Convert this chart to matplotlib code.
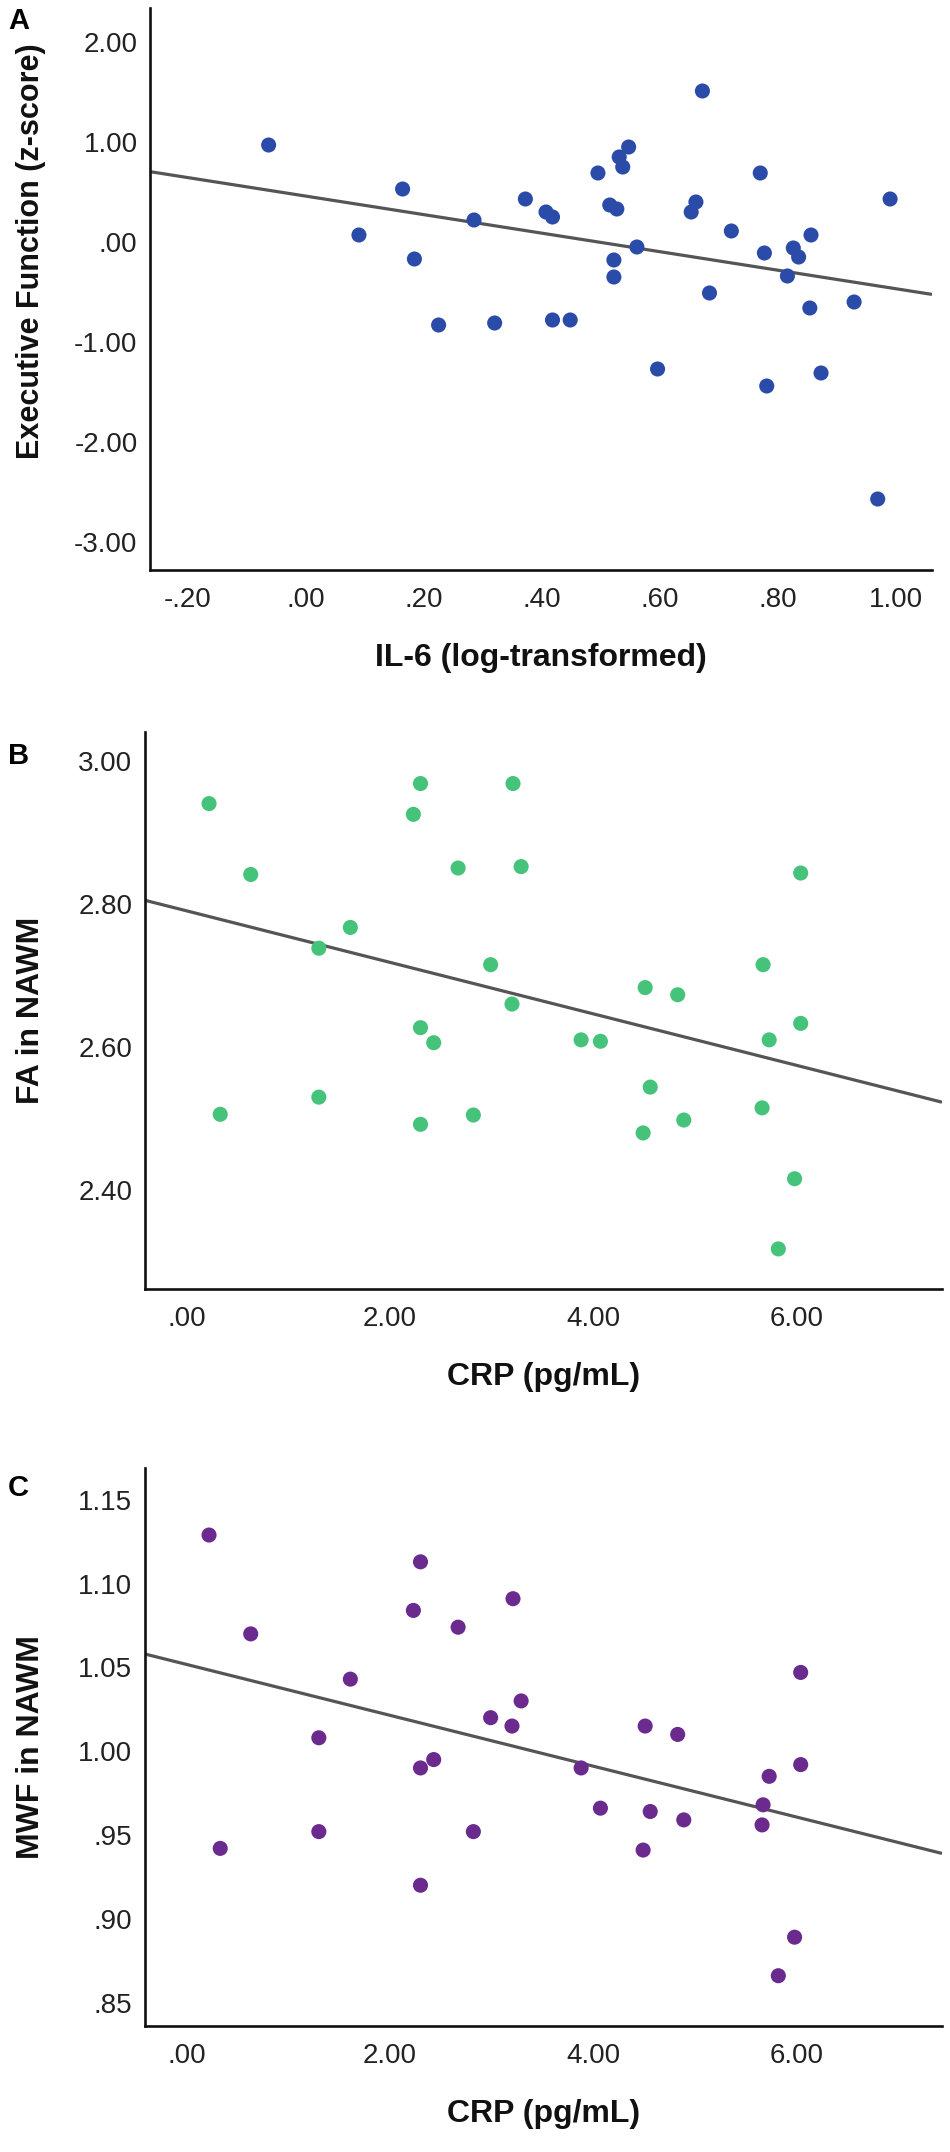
import numpy as np
import matplotlib
matplotlib.use("Agg")
import matplotlib.pyplot as plt

plt.rcParams['font.family'] = ['Liberation Sans', 'DejaVu Sans']

# ---------------- data ----------------
il6_log = [-0.063, 0.672, 0.164, 0.090, 0.184, 0.225, 0.285, 0.320, 0.372, 0.407,
           0.418, 0.418, 0.448, 0.495, 0.531, 0.537, 0.547, 0.515, 0.527, 0.522,
           0.522, 0.561, 0.596, 0.653, 0.661, 0.684, 0.721, 0.770, 0.777, 0.781,
           0.816, 0.826, 0.835, 0.854, 0.856, 0.873, 0.929, 0.990, 0.969]
exec_fn = [0.97, 1.51, 0.53, 0.07, -0.17, -0.83, 0.22, -0.81, 0.43, 0.30,
           0.25, -0.78, -0.78, 0.69, 0.85, 0.75, 0.95, 0.37, 0.33, -0.18,
           -0.35, -0.05, -1.27, 0.30, 0.40, -0.51, 0.11, 0.69, -0.11, -1.44,
           -0.34, -0.06, -0.15, -0.66, 0.07, -1.31, -0.60, 0.43, -2.57]

crp_b = [0.22, 0.63, 2.30, 2.23, 3.21, 2.67, 3.29, 6.04, 1.61, 1.30,
         2.99, 5.67, 4.51, 4.83, 3.20, 2.30, 2.43, 3.88, 4.07, 5.73,
         6.04, 4.56, 1.30, 0.33, 2.30, 2.82, 4.49, 4.89, 5.66, 5.98, 5.82]
fa_nawm = [2.940, 2.841, 2.968, 2.925, 2.968, 2.850, 2.852, 2.843, 2.767, 2.738,
           2.715, 2.715, 2.683, 2.673, 2.660, 2.627, 2.606, 2.610, 2.608, 2.610,
           2.633, 2.544, 2.530, 2.506, 2.492, 2.505, 2.480, 2.498, 2.515, 2.416, 2.318]

crp_c = [0.22, 0.63, 2.30, 2.23, 3.21, 2.67, 6.04, 1.61, 3.29, 2.99,
         3.20, 4.51, 4.83, 1.30, 2.43, 2.30, 3.88, 6.04, 5.73, 4.07,
         4.56, 4.89, 5.67, 5.66, 1.30, 2.82, 0.33, 2.30, 4.49, 5.98, 5.82]
mwf_nawm = [1.129, 1.070, 1.113, 1.084, 1.091, 1.074, 1.047, 1.043, 1.030, 1.020,
            1.015, 1.015, 1.010, 1.008, 0.995, 0.990, 0.990, 0.992, 0.985, 0.966,
            0.964, 0.959, 0.968, 0.956, 0.952, 0.952, 0.942, 0.920, 0.941, 0.889, 0.866]

xticks_a = [-0.2, 0.0, 0.2, 0.4, 0.6, 0.8, 1.0]
xticklabels_a = ['-.20', '.00', '.20', '.40', '.60', '.80', '1.00']
yticks_a = [2, 1, 0, -1, -2, -3]
yticklabels_a = ['2.00', '1.00', '.00', '-1.00', '-2.00', '-3.00']

xticks_crp = [0, 2, 4, 6]
xticklabels_crp = ['.00', '2.00', '4.00', '6.00']
yticks_b = [3.0, 2.8, 2.6, 2.4]
yticklabels_b = ['3.00', '2.80', '2.60', '2.40']
yticks_c = [1.15, 1.10, 1.05, 1.00, 0.95, 0.90, 0.85]
yticklabels_c = ['1.15', '1.10', '1.05', '1.00', '.95', '.90', '.85']

# ---------------- layout ----------------
W, H = 950, 2152
fig = plt.figure(figsize=(W / 100, H / 100), dpi=100)


def px_axes(left, top, right, bottom):
    return fig.add_axes([left / W, 1 - bottom / H, (right - left) / W, (bottom - top) / H])


panels = [
    dict(box=(150, 8, 932, 570), x=il6_log, y=exec_fn, color='#2B4BA8',
         xlim=(-0.264, 1.061), ylim=(-3.28, 2.34),
         xt=xticks_a, xtl=xticklabels_a, yt=yticks_a, ytl=yticklabels_a,
         xlabel='IL-6 (log-transformed)', ylabel='Executive Function (z-score)',
         ylab_y=0.568, ylab_size=22, letter='A', letter_top=7),
    dict(box=(145, 732, 942, 1289), x=crp_b, y=fa_nawm, color='#46C37A',
         xlim=(-0.41, 7.43), ylim=(2.262, 3.04),
         xt=xticks_crp, xtl=xticklabels_crp, yt=yticks_b, ytl=yticklabels_b,
         xlabel='CRP (pg/mL)', ylabel='FA in NAWM',
         ylab_y=0.5, ylab_size=23, letter='B', letter_top=742),
    dict(box=(145, 1468, 942, 2026), x=crp_c, y=mwf_nawm, color='#6B2A8E',
         xlim=(-0.41, 7.43), ylim=(0.836, 1.169),
         xt=xticks_crp, xtl=xticklabels_crp, yt=yticks_c, ytl=yticklabels_c,
         xlabel='CRP (pg/mL)', ylabel='MWF in NAWM',
         ylab_y=0.5, ylab_size=23, letter='C', letter_top=1474),
]

for p in panels:
    l, t, r, b = p['box']
    ax = px_axes(l, t, r, b)
    x = np.asarray(p['x'])
    y = np.asarray(p['y'])
    ax.scatter(x, y, s=118, color=p['color'], edgecolors='none', zorder=3)
    slope, intercept = np.polyfit(x, y, 1)
    xx = np.array(p['xlim'])
    ax.plot(xx, intercept + slope * xx, color='#555555', lw=2.3, zorder=2,
            solid_capstyle='butt')
    ax.set_xlim(*p['xlim'])
    ax.set_ylim(*p['ylim'])
    ax.set_xticks(p['xt'])
    ax.set_xticklabels(p['xtl'])
    ax.set_yticks(p['yt'])
    ax.set_yticklabels(p['ytl'])
    ax.tick_params(axis='both', length=0, labelsize=20, colors='#222222')
    ax.tick_params(axis='y', pad=9)
    ax.tick_params(axis='x', pad=12)
    for s in ('top', 'right'):
        ax.spines[s].set_visible(False)
    for s in ('left', 'bottom'):
        ax.spines[s].set_linewidth(1.9)
        ax.spines[s].set_color('#111111')
    ax.set_xlabel(p['xlabel'], fontsize=23, fontweight='bold', color='#111111')
    ax.set_ylabel(p['ylabel'], fontsize=p['ylab_size'], fontweight='bold', color='#111111')
    height_px = b - t
    width_px = r - l
    ax.xaxis.set_label_coords(0.5, -(88 / height_px))
    ax.xaxis.label.set_va('center')
    ax.yaxis.set_label_coords(-(l - 31) / width_px, p['ylab_y'])
    ax.yaxis.label.set_va('center')
    fig.text(8 / W, 1 - p['letter_top'] / H, p['letter'], fontsize=21,
             fontweight='bold', ha='left', va='top', color='#000000')

fig.savefig('out.png', dpi=100)
